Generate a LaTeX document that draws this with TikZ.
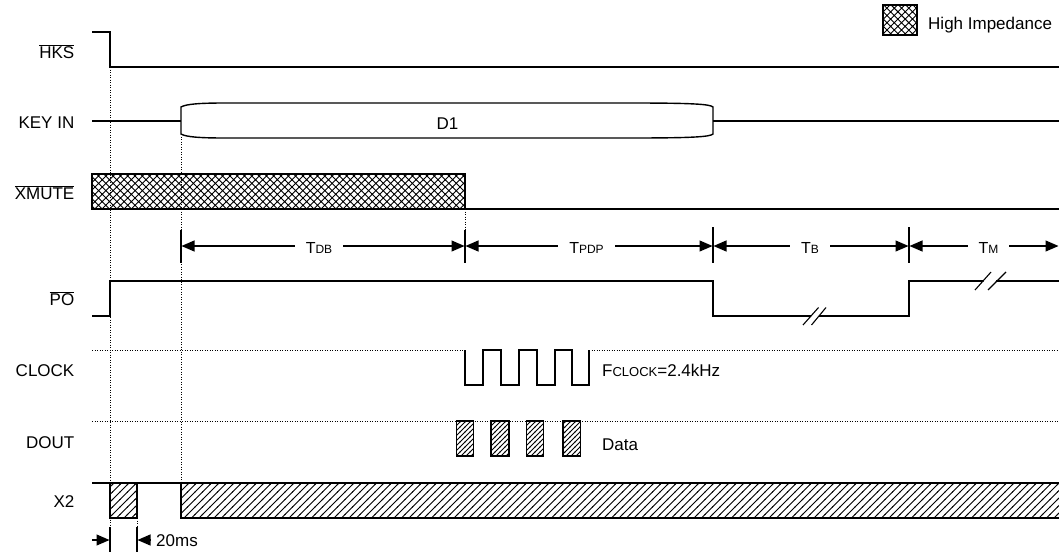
\documentclass[tikz,border=0pt]{standalone}
\usepackage{fontspec}
\setmainfont{Liberation Sans}
\usetikzlibrary{patterns,arrows.meta}
\pgfdeclarepatternformonly{xhatch}{\pgfpoint{-1pt}{-1pt}}{\pgfpoint{8.3pt}{8.3pt}}{\pgfpoint{7.3pt}{7.3pt}}{%
  \pgfsetlinewidth{0.9pt}%
  \pgfpathmoveto{\pgfpoint{-0.5pt}{-0.5pt}}\pgfpathlineto{\pgfpoint{7.8pt}{7.8pt}}%
  \pgfpathmoveto{\pgfpoint{-0.5pt}{7.8pt}}\pgfpathlineto{\pgfpoint{7.8pt}{-0.5pt}}%
  \pgfusepath{stroke}}
\pgfdeclarepatternformonly{dhatch}{\pgfpoint{-1pt}{-1pt}}{\pgfpoint{8.5pt}{8.5pt}}{\pgfpoint{7.5pt}{7.5pt}}{%
  \pgfsetlinewidth{0.85pt}%
  \pgfpathmoveto{\pgfpoint{-0.5pt}{-0.5pt}}\pgfpathlineto{\pgfpoint{8pt}{8pt}}%
  \pgfusepath{stroke}}
\pgfdeclarepatternformonly{dhatchs}{\pgfpoint{-1pt}{-1pt}}{\pgfpoint{6pt}{6pt}}{\pgfpoint{5pt}{5pt}}{%
  \pgfsetlinewidth{0.75pt}%
  \pgfpathmoveto{\pgfpoint{-0.5pt}{-0.5pt}}\pgfpathlineto{\pgfpoint{5.5pt}{5.5pt}}%
  \pgfusepath{stroke}}
\newcommand\sigfont{\fontsize{17}{19}\selectfont}
\newcommand\tfont{\fontsize{16}{18}\selectfont}
\newcommand\subf{\fontsize{12}{14}\selectfont}
\newcommand\subfc{\fontsize{13}{15}\selectfont}
\newcommand\ovl[1]{$\overline{\hbox{#1}}$}
\tikzset{
  sig/.style={line width=1.4pt},
  thinsig/.style={line width=1.2pt},
  dots/.style={line width=1pt, dash pattern=on 1pt off 1.5pt},
  tickln/.style={line width=1.1pt},
  dim/.style={line width=1.1pt, {Triangle[length=13pt,width=11pt]}-{Triangle[length=13pt,width=11pt]}},
  rarr/.style={line width=1.1pt, -{Triangle[length=13pt,width=11pt]}},
  lbl/.style={anchor=base east, font=\sigfont, inner sep=0pt},
  txt/.style={anchor=base west, font=\sigfont, inner sep=0pt},
  tlbl/.style={anchor=base, fill=white, inner xsep=11pt, inner ysep=2pt, font=\tfont},
}
\begin{document}
\begin{tikzpicture}[x=1pt,y=-1pt]
\clip (0,0) rectangle (1059,552);
\useasboundingbox (0,0) rectangle (1059,552);

% labels
\node[lbl] (lhks) at (74.5,58) {\ovl{HKS}};
\node[lbl] (lkey) at (74.5,128) {KEY IN};
\node[lbl] (lxm) at (74.5,199) {\ovl{XMUTE}};
\node[lbl] (lpo) at (74.5,305) {\ovl{PO}};
\node[lbl] (lclk) at (74.5,376.5) {CLOCK};
\node[lbl] (ldout) at (74.5,448) {DOUT};
\node[lbl] (lx2) at (74.5,507) {X2};

% legend
\draw[line width=1.1pt, pattern=xhatch] (883,5) rectangle (917,35);
\node[txt] (leg) at (928,29) {High Impedance};

% dotted verticals
\draw[dots] (110,67) -- (110,527);
\draw[dots] (181,134) -- (181,483);
\draw[dots] (465,209) -- (465,232);
\draw[dots] (137,518) -- (137,527);

% HKS
\draw[sig] (92,32) -- (110,32) -- (110,67) -- (1062,67);

% KEY IN
\draw[sig] (92,121) -- (181,121);
\draw[sig] (181,107) .. controls (186,104) and (200,103) .. (225,103) -- (630,103)
  .. controls (690,103) and (710,104) .. (713,107) -- (713,134)
  .. controls (710,137) and (690,138) .. (630,138) -- (225,138)
  .. controls (200,138) and (186,137) .. (181,134) -- cycle;
\draw[sig] (713,121) -- (1062,121);
\node[anchor=base, font=\sigfont, inner sep=0pt] (d1) at (447.5,129) {D1};

% XMUTE
\draw[sig, pattern=xhatch] (92,174) rectangle (465,209);
\draw[sig] (465,209) -- (1062,209);

% timing dimensions
\draw[tickln] (181,230) -- (181,263);
\draw[tickln] (465,230) -- (465,263);
\draw[tickln] (713,227) -- (713,263);
\draw[tickln] (909,227) -- (909,263);
\draw[dim] (181.5,246) -- (464.5,246);
\node[tlbl] (tdb) at (319,253) {T{\subf DB}};
\draw[dim] (465.5,246) -- (712.5,246);
\node[tlbl] (tpdp) at (586.5,253) {T{\subf PDP}};
\draw[dim] (713.5,246) -- (908.5,246);
\node[tlbl] (tb) at (810,253) {T{\subf B}};
\draw[dim] (909.5,246) -- (1058.5,246);
\node[tlbl] (tm) at (988.5,253) {T{\subf M}};

% PO
\draw[sig] (92,316) -- (110,316) -- (110,281) -- (713,281) -- (713,316) -- (909,316) -- (909,281) -- (1062,281);
\fill[white] (812,313) -- (819.5,313) -- (818,319) -- (810.5,319) -- cycle;
\draw[tickln] (803,325) -- (818.5,307.5);
\draw[tickln] (811.5,325) -- (826,307.5);
\fill[white] (984.5,278) -- (996.5,278) -- (995,284) -- (983,284) -- cycle;
\draw[tickln] (975,290) -- (991,272);
\draw[tickln] (988,290) -- (1006,272);

% CLOCK
\draw[dots] (92,350) -- (465,350);
\draw[dots] (589,350) -- (1062,350);
\draw[thinsig] (465,350) -- (465,385) -- (483,385) -- (483,350) -- (501,350) -- (501,385)
  -- (519,385) -- (519,350) -- (537,350) -- (537,385) -- (555,385) -- (555,350)
  -- (572,350) -- (572,385) -- (589,385) -- (589,350);
\node[txt] (fclk) at (602,376) {F{\subfc CLOCK}=2.4kHz};

% DOUT
\draw[dots] (92,421) -- (1062,421);
\foreach \a/\b in {456.5/473.5, 491/509, 526.5/543.5, 563/580.5}{
  \draw[line width=1.1pt, preaction={fill=white}, pattern=dhatchs] (\a,421) rectangle (\b,456);
}
\node[txt] (data) at (602,450) {Data};

% X2
\draw[sig] (92,483) -- (181,483);
\draw[sig, pattern=dhatch] (110,483) rectangle (137,518);
\draw[sig, pattern=dhatch] (181,483) rectangle (1065,518);

% 20ms
\draw[tickln] (110,527) -- (110,552);
\draw[tickln] (137,527) -- (137,552);
\draw[rarr] (92,540) -- (109.5,540);
\draw[rarr] (150,540) -- (137.5,540);
\node[txt] (ms) at (156,546) {20ms};
\end{tikzpicture}
\end{document}
